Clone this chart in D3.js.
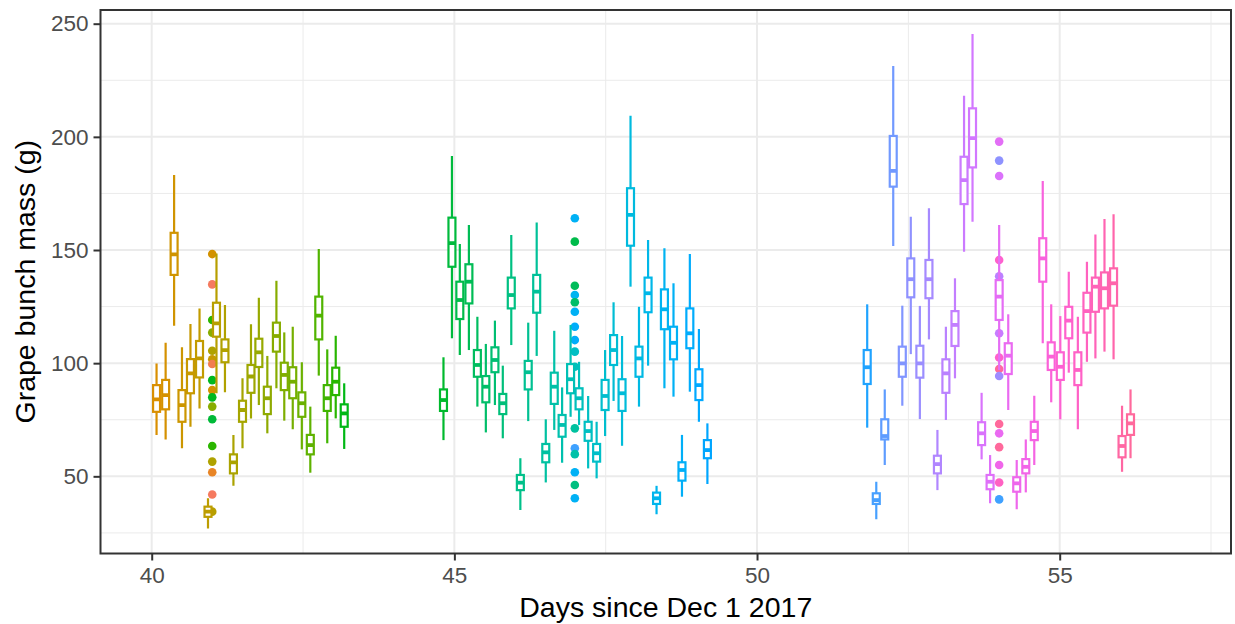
<!DOCTYPE html>
<html>
<head>
<meta charset="utf-8">
<script src="https://cdn.jsdelivr.net/npm/d3@7"></script>
<style>
  html, body { margin: 0; padding: 0; background: #ffffff; }
  svg { display: block; font-family: "Liberation Sans", Arial, Helvetica, sans-serif; }
</style>
</head>
<body>
<svg id="chart" width="1235" height="624"></svg>
<script>
// Sampling times (days since Dec 1 2017), one box per sampling event
const times = [
  40.08, 40.23, 40.37, 40.50, 40.64, 40.79, 40.93, 41.07, 41.21, 41.35, 41.50, 41.64, 41.77,
  41.91, 42.06, 42.19, 42.33, 42.48, 42.62, 42.76, 42.90, 43.04, 43.18,
  44.82, 44.96, 45.09, 45.24, 45.38, 45.52, 45.67, 45.80, 45.94, 46.09, 46.22, 46.36, 46.51,
  46.65, 46.78, 46.92, 47.06, 47.21, 47.35,
  47.49, 47.63, 47.77, 47.91, 48.05, 48.20, 48.34, 48.47, 48.62, 48.76, 48.89, 49.04, 49.18,
  51.82, 51.97, 52.11, 52.25, 52.40, 52.54, 52.69, 52.84, 52.98, 53.12, 53.27, 53.42, 53.56,
  53.71, 53.85,
  54.00, 54.15, 54.29, 54.44, 54.58, 54.72, 54.86, 55.01, 55.15, 55.30, 55.45, 55.59, 55.74,
  55.89, 56.03, 56.17
];

// Grape bunch mass (g): lower whisker, quartiles, median, upper whisker
const whiskerLow = [
  68.3, 66.3, 116.5, 62.4, 71.9, 80.0, 27.0, 86.7, 87.1, 45.8, 62.4, 75.6, 81.5,
  69.0, 88.9, 74.6, 70.8, 61.9, 51.6, 94.5, 64.6, 75.6, 62.1,
  66.0, 111.0, 103.6, 105.8, 80.8, 69.4, 81.5, 66.8, 108.0, 35.1, 74.4, 103.2, 47.3,
  70.5, 56.0, 76.3, 72.7, 53.5, 49.1,
  67.8, 83.3, 63.5, 133.8, 80.8, 98.9, 33.2, 88.9, 85.2, 41.0, 87.4, 74.1, 46.6,
  71.5, 31.0, 55.0, 151.8, 81.2, 104.0, 75.3, 110.5, 43.9, 74.9, 93.3, 149.2, 162.5,
  57.5, 38.1,
  97.0, 79.3, 35.4, 42.9, 55.0, 108.8, 82.7, 75.2, 95.8, 70.8, 100.6, 102.1, 105.1,
  101.7, 52.0, 58.0
];
const lowerQuartile = [
  78.5, 79.6, 139.0, 74.1, 86.7, 93.7, 32.1, 111.7, 100.4, 51.3, 74.1, 86.9, 98.3,
  77.5, 105.1, 88.1, 84.5, 76.3, 59.7, 110.5, 78.9, 85.9, 71.9,
  78.9, 142.6, 119.5, 126.4, 94.0, 82.7, 96.0, 77.5, 124.2, 43.9, 88.4, 122.3, 56.2,
  82.0, 67.5, 86.7, 79.6, 65.7, 56.5,
  79.3, 99.2, 78.9, 151.9, 94.0, 122.5, 37.8, 115.0, 101.7, 48.1, 106.6, 83.7, 58.0,
  90.8, 37.8, 66.3, 178.0, 94.0, 129.1, 93.6, 128.7, 51.3, 86.9, 107.6, 170.3, 186.5,
  63.8, 44.3,
  119.1, 95.2, 43.2, 51.3, 66.0, 136.0, 97.0, 92.6, 111.0, 90.3, 113.5, 122.7, 124.2,
  125.4, 58.4, 68.3
];
const medians = [
  84.0, 85.9, 148.1, 81.5, 95.5, 102.1, 34.4, 117.6, 105.8, 56.2, 79.3, 94.1, 104.8,
  84.5, 112.0, 94.8, 91.8, 82.3, 63.8, 121.0, 84.5, 91.8, 77.8,
  83.7, 153.0, 127.9, 136.0, 99.2, 89.6, 101.4, 82.3, 130.1, 47.2, 96.0, 131.6, 60.6,
  89.6, 72.7, 92.9, 84.5, 70.0, 60.2,
  85.5, 105.8, 86.7, 165.5, 102.1, 130.9, 40.3, 123.8, 109.0, 52.8, 113.2, 90.3, 61.6,
  98.2, 39.5, 67.8, 185.0, 99.9, 137.1, 99.9, 137.1, 55.4, 95.5, 116.9, 180.9, 199.4,
  69.0, 47.6,
  129.4, 103.3, 46.9, 54.2, 70.0, 146.3, 102.9, 98.4, 118.8, 97.0, 123.0, 133.8, 133.1,
  135.3, 63.4, 73.4
];
const upperQuartile = [
  90.3, 92.6, 157.6, 88.1, 101.8, 109.8, 36.6, 126.7, 110.5, 59.7, 83.4, 99.2, 110.8,
  89.6, 117.9, 100.2, 98.2, 87.1, 68.3, 129.4, 90.3, 98.0, 81.8,
  88.4, 164.3, 136.0, 143.7, 105.8, 94.3, 107.0, 86.4, 137.8, 50.6, 101.0, 139.0, 64.3,
  95.8, 77.1, 99.6, 88.9, 74.1, 64.3,
  92.6, 112.4, 92.9, 177.3, 107.3, 137.8, 42.8, 132.6, 116.1, 56.2, 124.2, 97.3, 66.0,
  105.8, 42.5, 75.2, 200.4, 107.3, 146.3, 107.7, 145.6, 59.1, 101.7, 123.0, 191.2, 212.6,
  73.9, 50.6,
  136.7, 108.8, 49.6, 57.6, 74.1, 155.2, 109.2, 104.8, 124.9, 104.8, 131.1, 137.8, 140.1,
  141.9, 67.8, 77.4
];
const whiskerHigh = [
  99.9, 109.0, 183.1, 107.0, 117.3, 124.2, 40.3, 148.5, 125.7, 68.3, 93.3, 117.2, 128.9,
  103.2, 136.4, 113.6, 116.1, 100.4, 80.8, 150.4, 106.1, 112.1, 91.1,
  102.6, 191.5, 152.7, 161.0, 120.5, 108.5, 118.8, 98.9, 156.6, 58.0, 117.9, 162.1, 75.2,
  114.3, 89.3, 116.9, 100.6, 85.5, 74.1,
  105.8, 126.9, 112.0, 209.3, 124.9, 154.4, 45.8, 150.8, 135.3, 68.3, 148.2, 115.1, 73.4,
  126.0, 47.6, 88.4, 231.3, 125.4, 164.7, 125.3, 168.4, 70.5, 116.1, 137.5, 218.2, 245.4,
  86.9, 59.4,
  161.0, 121.6, 57.2, 66.3, 85.6, 180.5, 126.0, 120.8, 140.4, 120.5, 144.8, 156.9, 163.7,
  165.8, 81.2, 88.4
];

// Outlying bunches, with the hue of the group they belong to
const outlierDays = [
  41, 41, 41, 41, 41, 41, 41, 41, 41, 41, 41, 41, 41, 41, 41, 41, 41,
  46.99, 46.99, 46.99, 46.99, 46.99, 46.99, 46.99, 46.99, 46.99, 46.99, 46.99, 46.99, 46.99, 46.99, 46.99, 46.99,
  54, 54, 54, 54, 54, 54, 54, 54, 54, 54, 54, 54, 54, 54, 54
];
const outlierMass = [
  148.2, 134.8, 119.1, 113.5, 105.5, 101.7, 99.6, 92.5, 88.1, 84.9, 80.8, 75.2, 63.4, 56.5, 51.8, 42.0, 34.4,
  164.0, 153.7, 134.2, 130.1, 126.9, 122.7, 116.1, 110.2, 105.1, 98.4, 71.2, 62.4, 59.8, 51.8, 46.2, 40.3,
  197.9, 189.5, 182.7, 145.6, 138.4, 113.2, 102.5, 97.4, 94.3, 73.1, 69.0, 62.9, 55.0, 47.3, 39.8
];
const outlierHue = [
  55, 20, 125, 100, 80, 65, 25, 130, 55, 130, 100, 135, 125, 80, 35, 20, 75,
  230, 140, 145, 225, 150, 230, 235, 235, 195, 190, 175, 250, 180, 230, 160, 230,
  300, 265, 295, 330, 280, 285, 330, 355, 270, 355, 305, 355, 310, 335, 250
];

const xTicks = [40, 45, 50, 55];
const xMinor = [42.5, 47.5, 52.5, 57.5];
const yTicks = [50, 100, 150, 200, 250];
const yMinor = [25, 75, 125, 175, 225];
const xTitle = "Days since Dec 1 2017";
const yTitle = "Grape bunch mass (g)";

// Polar LUV (HCL) to sRGB, as used by the default discrete hue palette
function hcl2rgb(h, c, l) {
  const hr = h * Math.PI / 180;
  const U = c * Math.cos(hr), V = c * Math.sin(hr);
  const Xn = 95.047, Yn = 100, Zn = 108.883;
  const den = Xn + 15 * Yn + 3 * Zn;
  const un = 4 * Xn / den, vn = 9 * Yn / den;
  const Y = l > 8 ? Yn * Math.pow((l + 16) / 116, 3) : Yn * l / 903.3;
  const u = U / (13 * l) + un, v = V / (13 * l) + vn;
  const X = Y * 9 * u / (4 * v);
  const Z = Y * (12 - 3 * u - 20 * v) / (4 * v);
  const x = X / 100, y = Y / 100, z = Z / 100;
  const lin = [
    3.2404542 * x - 1.5371385 * y - 0.4985314 * z,
    -0.9692660 * x + 1.8760108 * y + 0.0415560 * z,
    0.0556434 * x - 0.2040259 * y + 1.0572252 * z
  ];
  const g = lin.map(c0 => {
    const cc = c0 <= 0.0031308 ? 12.92 * c0 : 1.055 * Math.pow(c0, 1 / 2.4) - 0.055;
    return Math.round(Math.max(0, Math.min(1, cc)) * 255);
  });
  return d3.rgb(g[0], g[1], g[2]).formatHex();
}

const n = times.length;
const groupColor = i => hcl2rgb(50 + i * 305 / (n - 1), 100, 65);

const panel = { left: 100.5, right: 1231, top: 10, bottom: 553.5 };
const x = d3.scaleLinear().domain([39.154, 57.83]).range([panel.left, panel.right]);
const y = d3.scaleLinear().domain([15.9, 256.05]).range([panel.bottom, panel.top]);
const boxWidthDays = 0.115;

const svg = d3.select("#chart");
svg.append("rect").attr("width", 1235).attr("height", 624).attr("fill", "#ffffff");

svg.append("defs").append("clipPath").attr("id", "panel-clip")
  .append("rect")
  .attr("x", panel.left).attr("y", panel.top)
  .attr("width", panel.right - panel.left).attr("height", panel.bottom - panel.top);

// Grid
const grid = svg.append("g").attr("clip-path", "url(#panel-clip)");
grid.selectAll("line.yminor").data(yMinor).join("line")
  .attr("x1", panel.left).attr("x2", panel.right)
  .attr("y1", d => y(d)).attr("y2", d => y(d))
  .attr("stroke", "#ebebeb").attr("stroke-width", 1);
grid.selectAll("line.xminor").data(xMinor).join("line")
  .attr("y1", panel.top).attr("y2", panel.bottom)
  .attr("x1", d => x(d)).attr("x2", d => x(d))
  .attr("stroke", "#ebebeb").attr("stroke-width", 1);
grid.selectAll("line.ymajor").data(yTicks).join("line")
  .attr("x1", panel.left).attr("x2", panel.right)
  .attr("y1", d => y(d)).attr("y2", d => y(d))
  .attr("stroke", "#ebebeb").attr("stroke-width", 2);
grid.selectAll("line.xmajor").data(xTicks).join("line")
  .attr("y1", panel.top).attr("y2", panel.bottom)
  .attr("x1", d => x(d)).attr("x2", d => x(d))
  .attr("stroke", "#ebebeb").attr("stroke-width", 2);

// Outlier points
const marks = svg.append("g").attr("clip-path", "url(#panel-clip)");
marks.selectAll("circle").data(outlierDays.map((d, i) => i)).join("circle")
  .attr("cx", i => x(outlierDays[i]))
  .attr("cy", i => y(outlierMass[i]))
  .attr("r", 4.3)
  .attr("fill", i => hcl2rgb(outlierHue[i], 100, 65));

// Boxplots
const boxes = marks.selectAll("g.box").data(d3.range(n)).join("g").attr("class", "box");
boxes.append("line")
  .attr("x1", i => x(times[i])).attr("x2", i => x(times[i]))
  .attr("y1", i => y(whiskerLow[i])).attr("y2", i => y(whiskerHigh[i]))
  .attr("stroke", groupColor).attr("stroke-width", 2.2);
boxes.append("rect")
  .attr("x", i => x(times[i] - boxWidthDays / 2))
  .attr("width", i => x(times[i] + boxWidthDays / 2) - x(times[i] - boxWidthDays / 2))
  .attr("y", i => y(upperQuartile[i]))
  .attr("height", i => y(lowerQuartile[i]) - y(upperQuartile[i]))
  .attr("fill", "#ffffff")
  .attr("stroke", groupColor).attr("stroke-width", 2.2);
boxes.append("line")
  .attr("x1", i => x(times[i] - boxWidthDays / 2))
  .attr("x2", i => x(times[i] + boxWidthDays / 2))
  .attr("y1", i => y(medians[i])).attr("y2", i => y(medians[i]))
  .attr("stroke", groupColor).attr("stroke-width", 3.8);

// Panel border
svg.append("rect")
  .attr("x", panel.left).attr("y", panel.top)
  .attr("width", panel.right - panel.left).attr("height", panel.bottom - panel.top)
  .attr("fill", "none").attr("stroke", "#333333").attr("stroke-width", 2);

// Axes
const xAxis = d3.axisBottom(x).tickValues(xTicks).tickSize(7).tickPadding(7).tickFormat(d3.format("d"));
const yAxis = d3.axisLeft(y).tickValues(yTicks).tickSize(7).tickPadding(5).tickFormat(d3.format("d"));

const gx = svg.append("g").attr("transform", `translate(0,${panel.bottom})`).call(xAxis);
const gy = svg.append("g").attr("transform", `translate(${panel.left},0)`).call(yAxis);
[gx, gy].forEach(g => {
  g.select(".domain").remove();
  g.selectAll(".tick line").attr("stroke", "#333333").attr("stroke-width", 2);
  g.selectAll(".tick text")
    .attr("fill", "#4d4d4d")
    .style("font-size", "22.5px")
    .style("font-family", '"Liberation Sans", Arial, sans-serif');
});

svg.append("text")
  .attr("x", (panel.left + panel.right) / 2).attr("y", 617)
  .attr("text-anchor", "middle")
  .style("font-size", "28.5px").attr("fill", "#000000")
  .text(xTitle);

svg.append("text")
  .attr("transform", `translate(35,${(panel.top + panel.bottom) / 2}) rotate(-90)`)
  .attr("text-anchor", "middle")
  .style("font-size", "28.5px").attr("fill", "#000000")
  .text(yTitle);
</script>
</body>
</html>
